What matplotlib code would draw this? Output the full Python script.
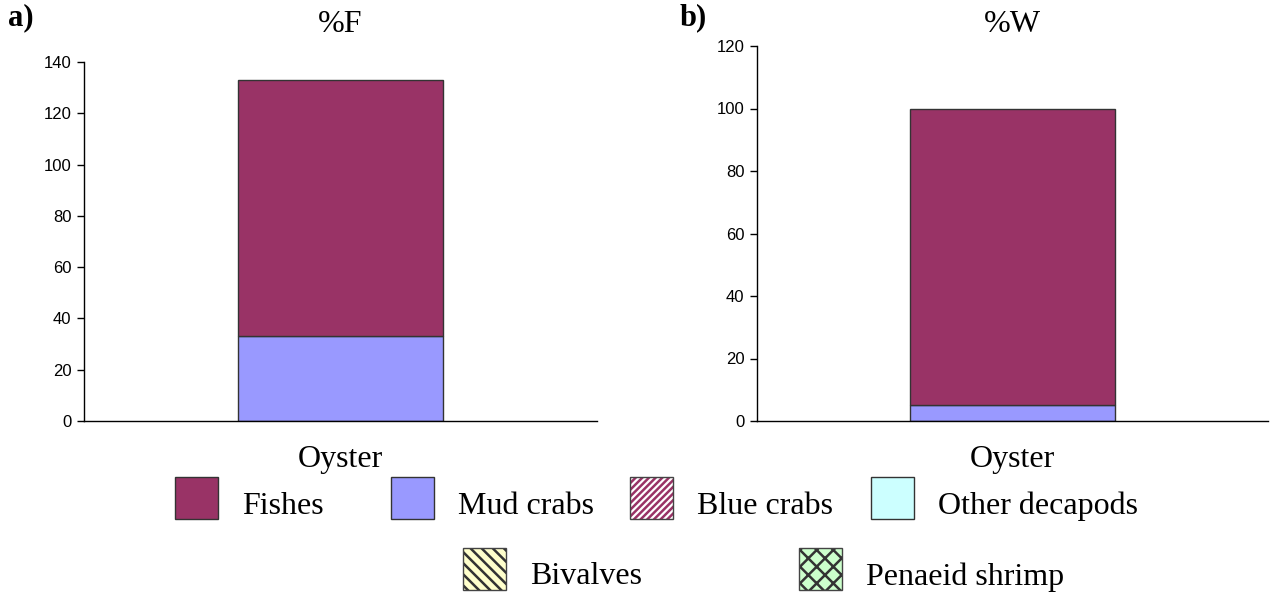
import matplotlib.pyplot as plt
from matplotlib.patches import Rectangle

# -----------------------------
# Data
# -----------------------------
categories = ["Oyster"]
prey = ["Fishes", "Mud crabs", "Blue crabs", "Other decapods", "Bivalves", "Penaeid shrimp"]
freq_pct = {"Mud crabs": [33], "Fishes": [100]}     # %F, stacked
weight_pct = {"Mud crabs": [5], "Fishes": [95]}     # %W, stacked
stack_order = ["Mud crabs", "Fishes"]

colors = {
    "Fishes": "#993366",
    "Mud crabs": "#9999FF",
    "Blue crabs": "white",
    "Other decapods": "#CCFFFF",
    "Bivalves": "#FFFFCC",
    "Penaeid shrimp": "#CCFFCC",
}
hatches = {"Blue crabs": "/////", "Bivalves": "\\\\\\", "Penaeid shrimp": "xx"}
hatch_colors = {"Blue crabs": "#993366", "Bivalves": "#333333", "Penaeid shrimp": "#333333"}

serif = "Liberation Serif"
sans = "Liberation Sans"

W, H = 1277, 598
fig = plt.figure(figsize=(W / 100, H / 100), dpi=100)
plt.rcParams["hatch.linewidth"] = 1.8


def px(x, y):
    return x / W, 1 - y / H


def draw_panel(rect, data, ymax, step, title, tag, tag_x):
    ax = fig.add_axes(rect)
    bottom = [0] * len(categories)
    for name in stack_order:
        ax.bar(range(len(categories)), data[name], width=0.4, bottom=bottom,
               color=colors[name], edgecolor="#333333", linewidth=1, zorder=2)
        bottom = [b + v for b, v in zip(bottom, data[name])]
    ax.set_xlim(-0.5, 0.5)
    ax.set_ylim(0, ymax)
    ax.set_yticks(range(0, ymax + 1, step))
    ax.set_xticks(range(len(categories)))
    ax.set_xticklabels(categories, fontsize=23, family=serif)
    ax.tick_params(axis="x", length=0, pad=17)
    ax.tick_params(axis="y", length=5, width=1, pad=4, labelsize=12)
    for lab in ax.get_yticklabels():
        lab.set_family(sans)
    ax.spines["top"].set_visible(False)
    ax.spines["right"].set_visible(False)
    ax.spines["left"].set_linewidth(1)
    ax.spines["bottom"].set_linewidth(1)
    cx = rect[0] + rect[2] / 2
    fig.text(cx, 1 - 25 / H, title, ha="center", va="center", fontsize=23, family=serif)
    fig.text(*px(tag_x, 18), tag, ha="left", va="center", fontsize=22,
             family=serif, fontweight="bold")
    return ax


# Panel a: %F
draw_panel([84 / W, 1 - 421 / H, 513 / W, 359 / H], freq_pct, 140, 20, "%F", "a)", 8)
# Panel b: %W
draw_panel([757 / W, 1 - 421 / H, 511 / W, 375 / H], weight_pct, 120, 20, "%W", "b)", 680)

# -----------------------------
# Legend (two rows, Excel style)
# -----------------------------
legend_pos = {
    "Fishes": (175, 477),
    "Mud crabs": (391, 477),
    "Blue crabs": (630, 477),
    "Other decapods": (871, 477),
    "Bivalves": (463, 548),
    "Penaeid shrimp": (799, 548),
}
pw, ph = 43, 42
for name in prey:
    x0, y0 = legend_pos[name]
    fx, fy = px(x0, y0 + ph)
    fw, fh = pw / W, ph / H
    if name in hatches:
        fig.add_artist(Rectangle((fx, fy), fw, fh, transform=fig.transFigure,
                                 facecolor=colors[name], edgecolor=hatch_colors[name],
                                 hatch=hatches[name], linewidth=0))
        fig.add_artist(Rectangle((fx, fy), fw, fh, transform=fig.transFigure,
                                 facecolor="none", edgecolor="#444444", linewidth=1))
    else:
        fig.add_artist(Rectangle((fx, fy), fw, fh, transform=fig.transFigure,
                                 facecolor=colors[name], edgecolor="#333333", linewidth=1))
    fig.text(*px(x0 + pw + 24, y0 + ph / 2 + 8), name, ha="left", va="center",
             fontsize=23, family=serif)

fig.savefig("out.png", dpi=100)
plt.close(fig)
